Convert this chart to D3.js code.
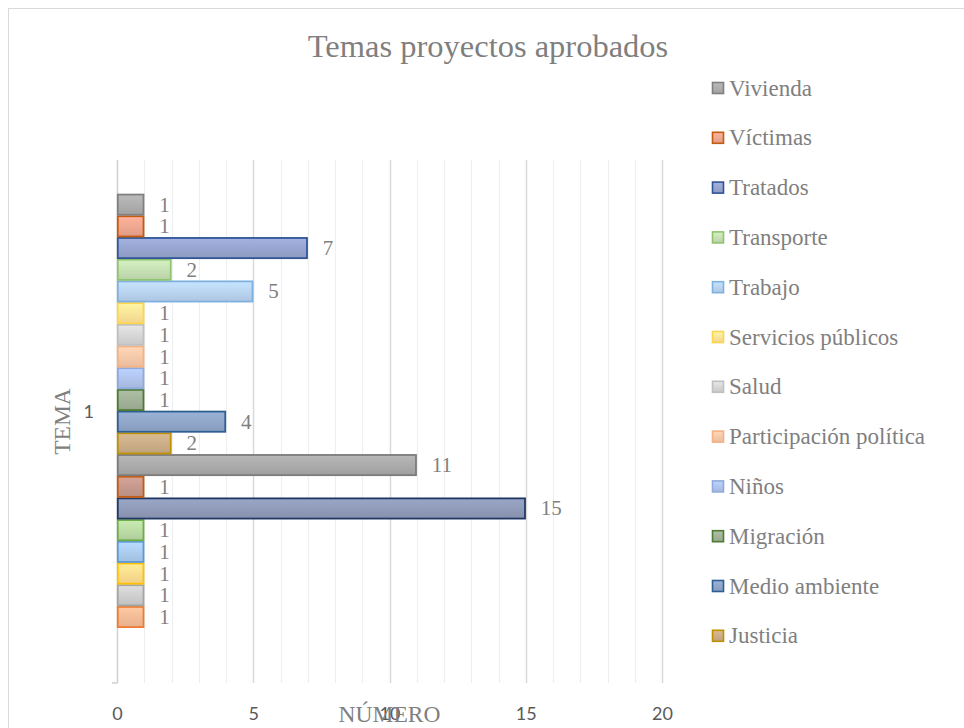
<!DOCTYPE html>
<html><head><meta charset="utf-8">
<script src="https://cdn.jsdelivr.net/npm/d3@7"></script>
<style>html,body{margin:0;padding:0;background:#fff;overflow:hidden}
.serif{font-family:"Liberation Serif","DejaVu Serif",serif}
.sans{font-family:Lato,"Liberation Sans",sans-serif}
</style>
</head><body>
<svg id="chart" width="964" height="728"></svg>
<script>
// ---- data ----
const categories = ["1"];
const seriesNames = ["Serie 1","Serie 2","Serie 3","Serie 4","Serie 5","Serie 6","Serie 7","Serie 8",
  "Justicia","Medio ambiente","Migración","Niños","Participación política","Salud",
  "Servicios públicos","Trabajo","Transporte","Tratados","Víctimas","Vivienda"];
const seriesValues = [1,1,1,1,1,15,1,11,2,4,1,1,1,1,1,5,2,7,1,1];
const seriesFills = ["#f5b994","#cccccc","#ffda8c","#aac9ec","#b9d8a3","#8e99b6","#c3968a","#a8a8a8",
  "#c8ac86","#8ea4c6","#9fb097","#adc1ea","#f8c6a8","#d3d3d3","#ffe196","#b6d1ee","#c3ddb1","#95a3cd","#eca58e","#ababab"];
const seriesStrokes = ["#ed7d31","#a5a5a5","#ffc000","#5b9bd5","#70ad47","#203864","#c55a11","#7b7b7b",
  "#bf9000","#2e5f93","#4e7a33","#8faadc","#f4b183","#c0c0c0","#ffd44d","#7fb1e0","#8fc46f","#2f5597","#c55a11","#808080"];
const xTicks = [0,5,10,15,20];
const legendSeries = ["Vivienda","Víctimas","Tratados","Transporte","Trabajo","Servicios públicos",
  "Salud","Participación política","Niños","Migración","Medio ambiente","Justicia"];
const titleText = "Temas proyectos aprobados";
const xTitle = "NÚMERO";
const yTitle = "TEMA";

// ---- layout ----
const svg = d3.select("#chart");
const plot = {left:117, right:662, top:160, bottom:683};

svg.append("rect").attr("x",8.5).attr("y",8.5).attr("width",1000).attr("height",800)
  .attr("fill","#fff").attr("stroke","#d9d9d9").attr("stroke-width",1);

const x = d3.scaleLinear().domain([0,20]).range([plot.left, plot.right]);
const yCat = d3.scaleBand().domain(categories).range([plot.top, plot.bottom])
  .paddingInner(0).paddingOuter(0.1025).align(0.38);
const ySer = d3.scaleBand().domain(d3.range(seriesNames.length))
  .range([yCat(categories[0]) + yCat.bandwidth(), yCat(categories[0])]);

const defs = svg.append("defs");
seriesFills.forEach((c,i)=>{
  const g = defs.append("linearGradient").attr("id","g"+i).attr("x1",0).attr("y1",0).attr("x2",0).attr("y2",1);
  g.append("stop").attr("offset","0%").attr("stop-color", d3.color(c).brighter(0.25));
  g.append("stop").attr("offset","100%").attr("stop-color", d3.color(c).darker(0.15));
});

const minor = d3.range(1,21).filter(v=>v%5!==0);
svg.append("g").selectAll("line").data(minor).join("line")
  .attr("x1",d=>Math.round(x(d))+0.5).attr("x2",d=>Math.round(x(d))+0.5)
  .attr("y1",plot.top).attr("y2",plot.bottom)
  .attr("stroke","#efefef").attr("stroke-width",1.2);
svg.append("g").selectAll("line").data(xTicks.slice(1)).join("line")
  .attr("x1",d=>Math.round(x(d))+0.5).attr("x2",d=>Math.round(x(d))+0.5)
  .attr("y1",plot.top).attr("y2",plot.bottom)
  .attr("stroke","#d9d9d9").attr("stroke-width",1.5);

svg.append("line").attr("x1",plot.left+0.5).attr("x2",plot.left+0.5).attr("y1",plot.top).attr("y2",plot.bottom)
  .attr("stroke","#d0d0d0").attr("stroke-width",1.5);
svg.append("line").attr("x1",plot.left-5).attr("x2",plot.left+0.5).attr("y1",plot.bottom).attr("y2",plot.bottom)
  .attr("stroke","#d0d0d0").attr("stroke-width",1.5);

const xAxis = d3.axisBottom(x).tickValues(xTicks).tickSize(0).tickPadding(0);
const gx = svg.append("g").attr("transform",`translate(0,${plot.bottom+37})`).call(xAxis);
gx.select(".domain").remove();
gx.attr("font-family",null).attr("font-size",null);
gx.selectAll("text").attr("class","sans").style("font-size","18px").attr("fill","#595959").attr("dy",0);

const bars = svg.append("g");
seriesValues.forEach((v,i)=>{
  bars.append("rect")
    .attr("x", x(0)+0.75).attr("y", ySer(i)+0.75)
    .attr("width", Math.max(0,x(v)-x(0)-1.5)).attr("height", ySer.bandwidth()-1.5)
    .attr("fill","url(#g"+i+")").attr("stroke",seriesStrokes[i]).attr("stroke-width",1.8);
  bars.append("text").attr("class","serif").attr("x", x(v)+15).attr("y", ySer(i)+ySer.bandwidth()/2+7)
    .style("font-size","21px").attr("fill","#7f7f7f").text(v);
});

svg.append("text").attr("class","sans").attr("x",plot.left-23).attr("y",yCat(categories[0])+yCat.bandwidth()/2+7)
  .attr("text-anchor","end").style("font-size","18px").attr("fill","#595959").text(categories[0]);

svg.append("text").attr("class","serif").attr("x",(plot.left+plot.right)/2).attr("y",plot.bottom+39).attr("text-anchor","middle")
  .style("font-size","23.5px").attr("fill","#7f7f7f").text(xTitle);
svg.append("text").attr("class","serif").attr("transform",`translate(70,${(plot.top+plot.bottom)/2}) rotate(-90)`).attr("text-anchor","middle")
  .style("font-size","23.5px").attr("fill","#7f7f7f").text(yTitle);

svg.append("text").attr("class","serif").attr("x",488).attr("y",57).attr("text-anchor","middle")
  .style("font-size","32.5px").attr("fill","#7f7f7f").text(titleText);

const lg = svg.append("g");
legendSeries.forEach((name,k)=>{
  const i = seriesNames.indexOf(name);
  const cy = 88 + k*49.8;
  lg.append("rect").attr("x",712.5).attr("y",cy-5.5).attr("width",11).attr("height",11)
    .attr("fill","url(#g"+i+")").attr("stroke",seriesStrokes[i]).attr("stroke-width",1.6);
  lg.append("text").attr("class","serif").attr("x",729).attr("y",cy+7.5).style("font-size","23px")
    .attr("fill","#7f7f7f").text(name);
});
</script>
</body></html>
